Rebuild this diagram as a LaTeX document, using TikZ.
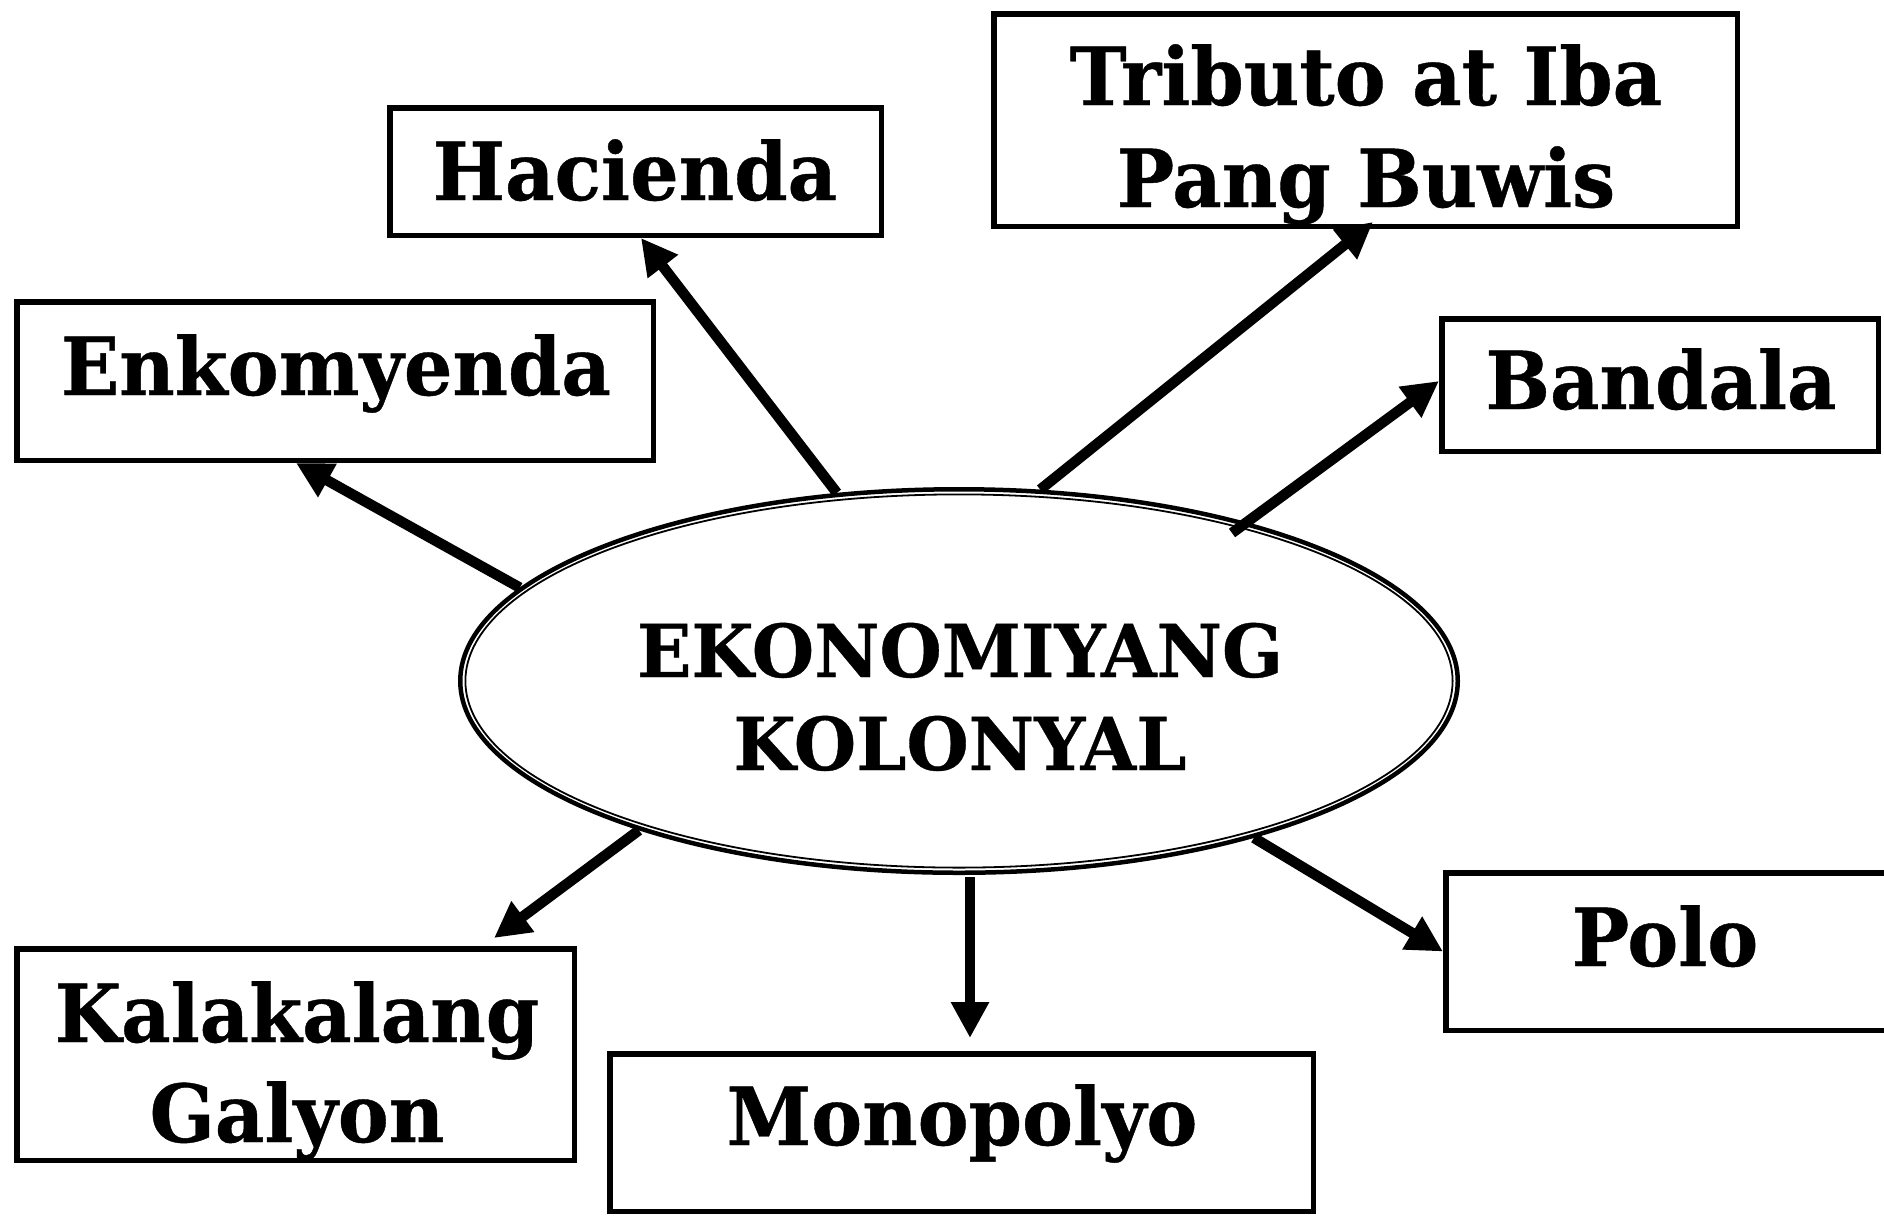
\documentclass[tikz,border=0pt]{standalone}
\usepackage{fontspec}
\usetikzlibrary{shapes.geometric,arrows.meta,calc}
\newfontfamily\boxfont{DejaVu Serif}[FakeStretch=0.955,FakeBold=0.5]
\newfontfamily\ellfont{DejaVu Serif}[FakeStretch=0.98,FakeBold=0.5]
\begin{document}
\begin{tikzpicture}[x=1pt,y=-1pt,
  boxstyle/.style={draw,line width=5.5pt,rectangle,inner sep=0pt,fill=white},
  lbl/.style={anchor=base,inner sep=0pt,font=\boxfont\bfseries\fontsize{80}{90}\selectfont},
  elbl/.style={anchor=base,inner sep=0pt,font=\ellfont\bfseries\fontsize{73}{80}\selectfont},
  conn/.style={line width=10.5pt,-{Triangle[width=36pt,length=36pt]}}]
\useasboundingbox (0,0) rectangle (1884,1216);
\clip (0,0) rectangle (1884,1216);
% boxes
\node[boxstyle,minimum width=491.5pt,minimum height=127.5pt] (hac) at (635.5,171.5) {};
\node[boxstyle,minimum width=743.5pt,minimum height=212.5pt] (trib) at (1365.5,120) {};
\node[boxstyle,minimum width=636.5pt,minimum height=158.5pt] (enk) at (335,381) {};
\node[boxstyle,minimum width=436.5pt,minimum height=132.5pt] (band) at (1660,385) {};
\node[boxstyle,minimum width=451.5pt,minimum height=157.5pt] (polo) at (1671.5,951.5) {};
\node[boxstyle,minimum width=557.5pt,minimum height=211.5pt] (kal) at (295.5,1054.5) {};
\node[boxstyle,minimum width=703.5pt,minimum height=157.5pt] (mono) at (961.5,1132.5) {};
% ellipse
\node[ellipse,draw,line width=4.5pt,inner sep=0pt,minimum width=997.5pt,minimum height=383.5pt] (ell) at (959,681) {};
\draw[line width=1.8pt] (ell.center) ellipse [x radius=493.6, y radius=186.6];
% texts
\node[lbl] (thac) at (635,200) {Hacienda};
\node[lbl] (ttrib1) at (1366,105) {Tributo at Iba};
\node[lbl] (ttrib2) at (1366,207) {Pang Buwis};
\node[lbl] (tenk) at (336,395) {Enkomyenda};
\node[lbl] (tband) at (1661,409) {Bandala};
\node[lbl] (tpolo) at (1665,966) {Polo};
\node[lbl] (tkal1) at (297,1042) {Kalakalang};
\node[lbl] (tkal2) at (297,1142) {Galyon};
\node[lbl] (tmono) at (962,1145) {Monopolyo};
\node[elbl] (tell1) at (960,677) {EKONOMIYANG};
\node[elbl] (tell2) at (960,770) {KOLONYAL};
% connectors
\draw[conn] (ell.168.2) -- ([xshift=-39pt]enk.south);
\draw[conn] (ell.123.5) -- ([xshift=5.5pt]hac.south);
\draw[conn] (ell.67.9) -- ([xshift=7.5pt,yshift=7pt]trib.south);
\draw[conn] ($(ell.center)+(273,-148)$) -- ([yshift=4pt]band.west);
\draw[conn] (ell.-28.8) -- (polo.west);
\draw[conn] ($(ell.center)+(11,196)$) -- ($(ell.center |- mono.north)+(11,-13)$);
\draw[conn] (ell.205.2) -- ([xshift=198.5pt,yshift=8pt]kal.north);
\end{tikzpicture}
\end{document}
